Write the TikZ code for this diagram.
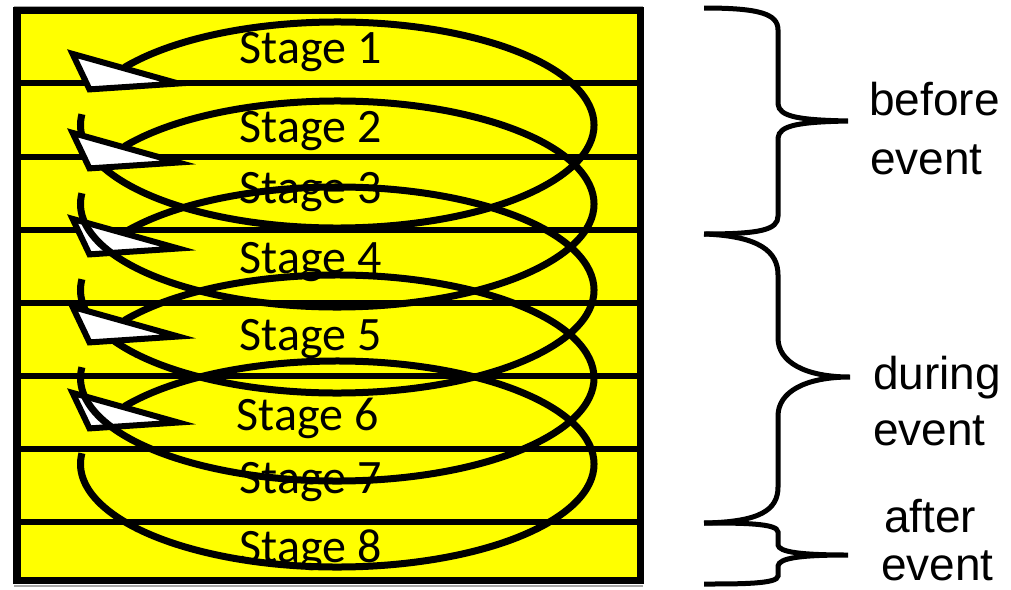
\documentclass[tikz,border=0pt]{standalone}
\usepackage{fontspec}
\setmainfont{Liberation Sans}
\newfontfamily\stagefont{Carlito}
\definecolor{stageyellow}{RGB}{255,255,0}
\begin{document}
\begin{tikzpicture}[x=1pt,y=1pt,
  rowline/.style={line width=5.5pt},
  coil/.style={line width=7pt},
  arrowhd/.style={draw=black, fill=white, line width=6pt, line join=miter},
  bracestyle/.style={line width=5pt},
  stagelbl/.style={font=\stagefont\fontsize{48}{50}\selectfont, inner sep=0pt, anchor=base},
  evtlbl/.style={font=\fontsize{46}{50}\selectfont, inner sep=0pt, anchor=base west}]
\useasboundingbox (0,0) rectangle (1011,-589);
\fill[white] (0,0) rectangle (1011,-589);
% box
\fill[stageyellow] (17,-10.5) rectangle (640.5,-580.5);
\foreach \y in {83,157,230,303,376,449,522}
  \draw[rowline] (17,-\y) -- (640.5,-\y);
\draw[gray!70, line width=1.5pt] (14,-7) -- (643,-7);
\draw[gray!70, line width=1.5pt] (14,-586) -- (643,-586);
\draw[line width=7.5pt] (17,-10.5) rectangle (640.5,-580.5);
% stage labels
\node[stagelbl] (s1) at (310.5,-63) {Stage 1};
\node[stagelbl] (s2) at (310.5,-142) {Stage 2};
\node[stagelbl] (s3) at (310.5,-203) {Stage 3};
\node[stagelbl] (s4) at (310.5,-273) {Stage 4};
\node[stagelbl] (s5) at (310.5,-350) {Stage 5};
\node[stagelbl] (s6) at (307.5,-430) {Stage 6};
\node[stagelbl] (s7) at (310.5,-493) {Stage 7};
\node[stagelbl] (s8) at (310.5,-562) {Stage 8};
% arrowheads 1,3,5 (below the coils)
\foreach \c in {125,290,464}
  \draw[arrowhd] (72.6,{-(\c-75+3.9)}) -- (89.5,{-(\c-75+39.4)}) -- (178.3,{-(\c-75+33.5)}) -- cycle;
% coils
\foreach \c in {125,204,290,378,464}
  \draw[coil] (337.25,-\c) ++(146:256.75 and 103)
    arc[start angle=146, end angle=-186, x radius=256.75, y radius=103];
% arrowheads 2,4 (above the coils)
\foreach \c in {204,378}
  \draw[arrowhd] (72.6,{-(\c-75+3.9)}) -- (89.5,{-(\c-75+39.4)}) -- (178.3,{-(\c-75+33.5)}) -- cycle;
% braces
\draw[bracestyle] (704,-8) .. controls (760,-8) and (778,-14) .. (778,-30)
  -- (778,-104) .. controls (779,-117) and (800,-120) .. (848,-121)
  .. controls (800,-122) and (779,-125) .. (778,-138)
  -- (778,-216) .. controls (778,-230) and (760,-234) .. (704,-234);
\draw[bracestyle] (704,-234) .. controls (760,-236) and (778,-252) .. (778,-275)
  -- (778,-338) .. controls (778,-362) and (805,-377) .. (850,-377)
  .. controls (805,-377) and (778,-392) .. (778,-416)
  -- (778,-487) .. controls (778,-510) and (760,-522) .. (704,-523);
\draw[bracestyle] (704,-523) .. controls (740,-523) and (778,-523) .. (778,-532)
  -- (778,-545) .. controls (779,-552) and (800,-555) .. (848,-555)
  .. controls (800,-555) and (779,-558) .. (778,-566)
  -- (778,-576) .. controls (778,-584) and (740,-584) .. (704,-584);
% labels
\node[evtlbl] (before) at (869,-115) {before};
\node[evtlbl] (event1) at (870,-174) {event};
\node[evtlbl] (during) at (873,-389) {during};
\node[evtlbl] (event2) at (873,-445) {event};
\node[evtlbl] (after) at (884,-532) {after};
\node[evtlbl] (event3) at (881,-580) {event};
\end{tikzpicture}
\end{document}
